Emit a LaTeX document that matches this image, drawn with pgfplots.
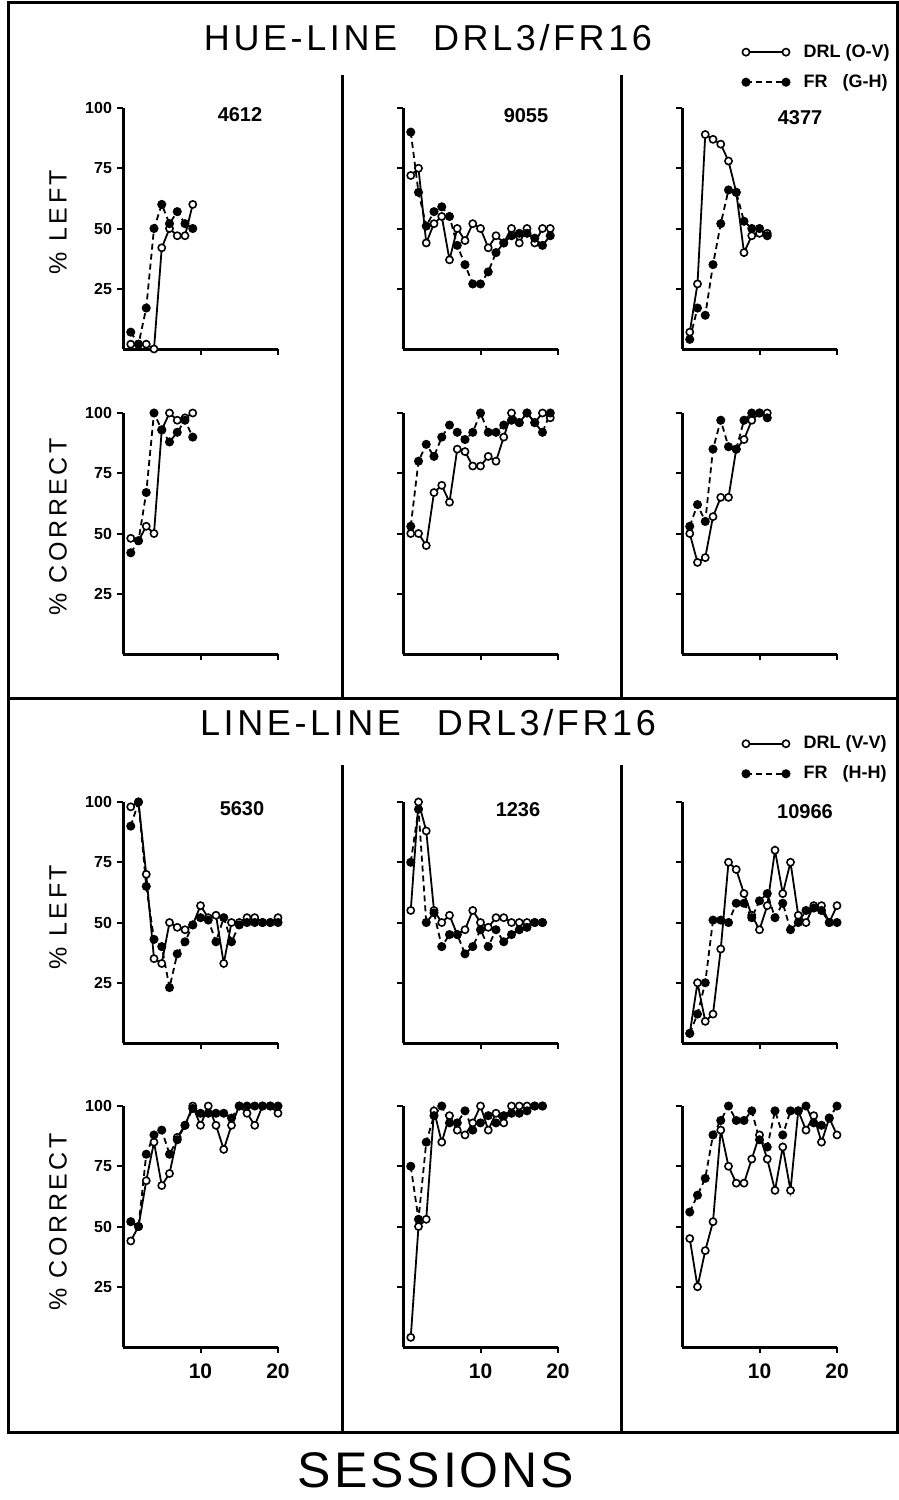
\documentclass[border=0pt]{standalone}
\usepackage{fontspec}
\setmainfont{Liberation Sans}
\newfontfamily\spaced[LetterSpace=14]{Liberation Sans}
\newfontfamily\wide[LetterSpace=10]{Liberation Sans}
\newfontfamily\sess[LetterSpace=6]{Liberation Sans}
\usepackage{pgfplots}
\pgfplotsset{compat=1.18}
\pgfplotsset{
  base/.style={scale only axis, width=77.5pt, height=120.5pt,
    xmin=0, xmax=20, ymin=0, ymax=100,
    axis lines=left, axis line style={line width=1.5pt,-},
    xtick={10,20}, ytick={25,50,75,100},
    tick align=outside, major tick length=3pt,
    every tick/.style={black, line width=1pt},
    xticklabels={}, yticklabels={}, clip=false, anchor=south west,
    /pgf/number format/assume math mode=true},
  ylab/.style={yticklabels={25,50,75,100},
    yticklabel style={font=\bfseries\fontsize{8}{8}\selectfont, xshift=1pt}},
  xlab/.style={xticklabels={10,20},
    xticklabel style={font=\bfseries\fontsize{10.5}{10.5}\selectfont, yshift=-2pt}},
  drl/.style={black, line width=0.9pt, mark=*, mark size=1.8pt,
    mark options={fill=white, solid, line width=0.8pt}},
  fr/.style={black, line width=0.9pt, dash pattern=on 3pt off 2pt, mark=*, mark size=1.8pt,
    mark options={fill=black, solid}},
  leg/.style={legend style={at={#1}, anchor=north west, draw=none, fill=none,
    font=\bfseries\fontsize{9}{9}\selectfont, row sep=5pt, inner sep=0pt,
    nodes={inner sep=1pt},
    /tikz/every odd column/.append style={column sep=6pt}},
    legend cell align=left,
    legend image code/.code={\draw[##1] plot coordinates {(0pt,0pt) (20pt,0pt)};}},
}
\begin{document}
\begin{tikzpicture}[x=0.5pt,y=-0.5pt]
\path[use as bounding box] (0,0) rectangle (899,1500);
% frame
\draw[line width=1.5pt] (8,2) rectangle (897,1432);
\draw[line width=1.5pt] (8,698) -- (897,698);
\draw[line width=1.5pt] (342,75) -- (342,698);
\draw[line width=1.5pt] (621,75) -- (621,698);
\draw[line width=1.5pt] (342,765) -- (342,1432);
\draw[line width=1.5pt] (621,765) -- (621,1432);

% ---------- top section ----------
\begin{axis}[base, ylab, at={(61.5pt,-174.5pt)}]
\addplot[drl] coordinates {(1,2) (2,2) (3,2) (4,0) (5,42) (6,50) (7,47) (8,47) (9,60)};
\addplot[fr] coordinates {(1,7) (2,2) (3,17) (4,50) (5,60) (6,52) (7,57) (8,52) (9,50)};
\end{axis}
\begin{axis}[base, at={(201.5pt,-174.5pt)}]
\addplot[drl] coordinates {(1,72) (2,75) (3,44) (4,52) (5,55) (6,37) (7,50) (8,45) (9,52) (10,50) (11,42) (12,47) (13,44) (14,50) (15,44) (16,50) (17,44) (18,50) (19,50)};
\addplot[fr] coordinates {(1,90) (2,65) (3,51) (4,57) (5,59) (6,55) (7,43) (8,35) (9,27) (10,27) (11,32) (12,40) (13,44) (14,47) (15,48) (16,48) (17,46) (18,43) (19,47)};
\end{axis}
\begin{axis}[base, at={(341pt,-174.5pt)}, leg={(0.387,1.275)}]
\addplot[drl] coordinates {(1,7) (2,27) (3,89) (4,87) (5,85) (6,78) (7,65) (8,40) (9,47) (10,48) (11,48)};
\addplot[fr] coordinates {(1,4) (2,17) (3,14) (4,35) (5,52) (6,66) (7,65) (8,53) (9,50) (10,50) (11,47)};
\legend{DRL (O-V), FR\ \ \ (G-H)}
\end{axis}

\begin{axis}[base, ylab, at={(61.5pt,-327pt)}]
\addplot[drl] coordinates {(1,48) (2,47) (3,53) (4,50) (5,93) (6,100) (7,97) (8,98) (9,100)};
\addplot[fr] coordinates {(1,42) (2,47) (3,67) (4,100) (5,93) (6,88) (7,92) (8,97) (9,90)};
\end{axis}
\begin{axis}[base, at={(201.5pt,-327pt)}]
\addplot[drl] coordinates {(1,50) (2,50) (3,45) (4,67) (5,70) (6,63) (7,85) (8,84) (9,78) (10,78) (11,82) (12,80) (13,90) (14,100) (15,96) (16,100) (17,96) (18,100) (19,98)};
\addplot[fr] coordinates {(1,53) (2,80) (3,87) (4,82) (5,90) (6,95) (7,92) (8,89) (9,92) (10,100) (11,92) (12,92) (13,95) (14,97) (15,96) (16,100) (17,96) (18,92) (19,100)};
\end{axis}
\begin{axis}[base, at={(341pt,-327pt)}]
\addplot[drl] coordinates {(1,50) (2,38) (3,40) (4,57) (5,65) (6,65) (7,85) (8,89) (9,97) (10,100) (11,100)};
\addplot[fr] coordinates {(1,53) (2,62) (3,55) (4,85) (5,97) (6,86) (7,85) (8,97) (9,100) (10,100) (11,98)};
\end{axis}

% ---------- bottom section ----------
\begin{axis}[base, ylab, at={(61.5pt,-521.5pt)}]
\addplot[drl] coordinates {(1,98) (2,100) (3,70) (4,35) (5,33) (6,50) (7,48) (8,47) (9,49) (10,57) (11,52) (12,53) (13,33) (14,50) (15,50) (16,52) (17,52) (18,50) (19,50) (20,52)};
\addplot[fr] coordinates {(1,90) (2,100) (3,65) (4,43) (5,40) (6,23) (7,37) (8,42) (9,49) (10,52) (11,51) (12,42) (13,52) (14,42) (15,49) (16,50) (17,50) (18,50) (19,50) (20,50)};
\end{axis}
\begin{axis}[base, at={(201.5pt,-521.5pt)}]
\addplot[drl] coordinates {(1,55) (2,100) (3,88) (4,55) (5,50) (6,53) (7,45) (8,47) (9,55) (10,50) (11,48) (12,52) (13,52) (14,50) (15,50) (16,50) (17,50) (18,50)};
\addplot[fr] coordinates {(1,75) (2,97) (3,50) (4,54) (5,40) (6,45) (7,45) (8,37) (9,40) (10,47) (11,40) (12,47) (13,42) (14,45) (15,47) (16,48) (17,50) (18,50)};
\end{axis}
\begin{axis}[base, at={(341pt,-521.5pt)}, leg={(0.387,1.285)}]
\addplot[drl] coordinates {(1,4) (2,25) (3,9) (4,12) (5,39) (6,75) (7,72) (8,62) (9,53) (10,47) (11,57) (12,80) (13,62) (14,75) (15,53) (16,50) (17,57) (18,57) (19,50) (20,57)};
\addplot[fr] coordinates {(1,4) (2,12) (3,25) (4,51) (5,51) (6,50) (7,58) (8,58) (9,52) (10,59) (11,62) (12,52) (13,58) (14,47) (15,50) (16,55) (17,56) (18,55) (19,50) (20,50)};
\legend{DRL (V-V), FR\ \ \ (H-H)}
\end{axis}

\begin{axis}[base, ylab, xlab, at={(61.5pt,-673.5pt)}]
\addplot[drl] coordinates {(1,44) (2,50) (3,69) (4,85) (5,67) (6,72) (7,87) (8,92) (9,100) (10,92) (11,100) (12,92) (13,82) (14,92) (15,100) (16,97) (17,92) (18,100) (19,100) (20,97)};
\addplot[fr] coordinates {(1,52) (2,50) (3,80) (4,88) (5,90) (6,80) (7,86) (8,92) (9,99) (10,97) (11,97) (12,97) (13,97) (14,95) (15,100) (16,100) (17,100) (18,100) (19,100) (20,100)};
\end{axis}
\begin{axis}[base, xlab, at={(201.5pt,-673.5pt)}]
\addplot[drl] coordinates {(1,4) (2,50) (3,53) (4,98) (5,85) (6,96) (7,90) (8,88) (9,93) (10,100) (11,90) (12,97) (13,93) (14,100) (15,100) (16,100) (17,100) (18,100)};
\addplot[fr] coordinates {(1,75) (2,53) (3,85) (4,96) (5,100) (6,93) (7,93) (8,98) (9,90) (10,93) (11,96) (12,93) (13,96) (14,97) (15,97) (16,98) (17,100) (18,100)};
\end{axis}
\begin{axis}[base, xlab, at={(341pt,-673.5pt)}]
\addplot[drl] coordinates {(1,45) (2,25) (3,40) (4,52) (5,90) (6,75) (7,68) (8,68) (9,78) (10,88) (11,78) (12,65) (13,83) (14,65) (15,98) (16,90) (17,96) (18,85) (19,95) (20,88)};
\addplot[fr] coordinates {(1,56) (2,63) (3,70) (4,88) (5,94) (6,100) (7,94) (8,94) (9,98) (10,86) (11,83) (12,98) (13,88) (14,98) (15,98) (16,100) (17,93) (18,92) (19,95) (20,100)};
\end{axis}

% ---------- texts ----------
\node[font=\wide\fontsize{18}{18}\selectfont] at (428,38) {HUE-LINE\quad DRL3/FR16};
\node[font=\wide\fontsize{18}{18}\selectfont] at (428,723) {LINE-LINE\quad DRL3/FR16};
\node[font=\sess\fontsize{25}{25}\selectfont] at (436,1470) {SESSIONS};
\foreach \t/\x/\y in {4612/240/115, 9055/526/116, 4377/800/118, 5630/242/809, 1236/518/810, 10966/805/812}
  \node[font=\bfseries\fontsize{10}{10}\selectfont] at (\x,\y) {\t};
\node[rotate=90, font=\spaced\fontsize{12.5}{12.5}\selectfont] at (58,222) {\%\ LEFT};
\node[rotate=90, font=\spaced\fontsize{12.5}{12.5}\selectfont] at (58,527) {\%\ CORRECT};
\node[rotate=90, font=\spaced\fontsize{12.5}{12.5}\selectfont] at (58,917) {\%\ LEFT};
\node[rotate=90, font=\spaced\fontsize{12.5}{12.5}\selectfont] at (58,1222) {\%\ CORRECT};
\end{tikzpicture}
\end{document}
